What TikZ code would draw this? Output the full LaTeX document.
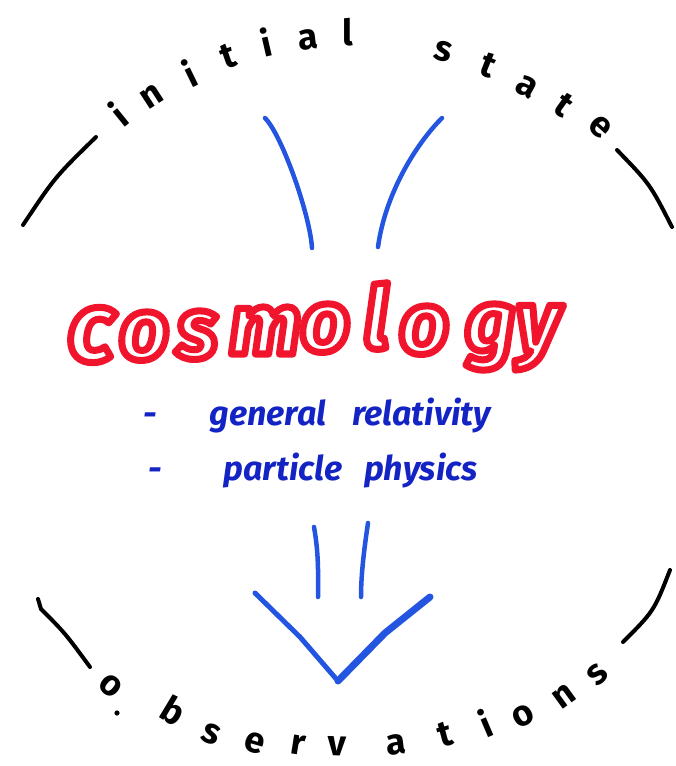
\documentclass[tikz,border=0pt]{standalone}
\usepackage{fontspec}
\newfontfamily\handfont{Fira Sans}
\definecolor{penblue}{RGB}{35,85,225}
\definecolor{inkblue}{RGB}{20,35,195}
\definecolor{penred}{RGB}{240,20,45}
% hollow lettering: stroke the glyph outlines only
\newcommand\hollow[1]{\special{pdf:literal direct 1 Tr 7 w 1 j}#1\special{pdf:literal direct 0 Tr}}

\begin{document}
\begin{tikzpicture}[x=1pt,y=-1pt,
    rim/.style={line width=4pt,line cap=round},
    bluestroke/.style={line width=4.5pt,line cap=round,draw=penblue},
    letter/.style={font=\handfont\bfseries\fontsize{36}{40}\selectfont,inner sep=0pt,
                   text height=19pt,text depth=0pt},
    bigletter/.style={font=\handfont\bfseries\itshape\fontsize{86}{96}\selectfont,
                      text=penred,inner sep=0pt,anchor=base},
    point/.style={font=\handfont\bfseries\itshape\fontsize{34}{40}\selectfont,
                  text=inkblue,inner sep=0pt,anchor=base west}]

  \useasboundingbox (0,0) rectangle (675,766);

  % --- the four pieces of the outer ring ---
  \draw[rim] (23,225) .. controls (55,177) .. (96,137);
  \draw[rim] (617,150) .. controls (650,184) .. (672,227);
  \draw[rim] (38,599) -- (41,609) .. controls (65,633) .. (90,667);
  \draw[rim] (670,570) .. controls (654,611) .. (623,642);

  % --- top arc: initial state ---
  \node[letter,rotate=39]  (i1) at (121,118) {i};
  \node[letter,rotate=33]  (n1) at (152,97)  {n};
  \node[letter,rotate=26]  (i2) at (192,78)  {i};
  \node[letter,rotate=19]  (t1) at (229,58)  {t};
  \node[letter,rotate=13]  (i3) at (267,47)  {i};
  \node[letter,rotate=7]   (a1) at (308,40)  {a};
  \node[letter,rotate=0]   (l1) at (348,36)  {l};
  \node[letter,rotate=-15] (s1) at (443,52)  {s};
  \node[letter,rotate=-22] (t2) at (487,67)  {t};
  \node[letter,rotate=-29] (a2) at (527,87)  {a};
  \node[letter,rotate=-36] (t3) at (563,107) {t};
  \node[letter,rotate=-42] (e1) at (600,127) {e};

  % --- bottom arc: observations ---
  \node[letter,rotate=-40] (o1) at (111,686) {o};
  \fill (117,713) circle (2.6);
  \node[letter,rotate=-31] (b1) at (172,714) {b};
  \node[letter,rotate=-23] (s2) at (211,734) {s};
  \node[letter,rotate=-16] (e2) at (255,743) {e};
  \node[letter,rotate=-9]  (r1) at (298,745) {r};
  \node[letter,rotate=-2]  (v1) at (337,746) {v};
  \node[letter,rotate=7]   (a3) at (396,745) {a};
  \node[letter,rotate=15]  (t4) at (446,737) {t};
  \node[letter,rotate=23]  (i4) at (487,728) {i};
  \node[letter,rotate=28]  (o2) at (523,716) {o};
  \node[letter,rotate=36]  (n2) at (564,697) {n};
  \node[letter,rotate=42]  (s3) at (598,675) {s};

  % --- the two strokes coming in from the top ---
  \draw[bluestroke] (265,118) .. controls (282,135) and (310,215) .. (312,248);
  \draw[bluestroke] (442,118) .. controls (415,145) and (385,195) .. (378,247);

  % --- cosmology, hollow red letters ---
  \node[bigletter,font=\handfont\bfseries\itshape\fontsize{98}{104}\selectfont] (c) at (91,361) {\hollow{c}};
  \node[bigletter] (o3) at (144,359) {\hollow{o}};
  \node[bigletter] (s4) at (197,358) {\hollow{s}};
  \node[bigletter] (m)  at (265,354) {\hollow{m}};
  \node[bigletter] (o4) at (325,351) {\hollow{o}};
  \node[bigletter] (l2) at (376,348) {\hollow{l}};
  \node[bigletter] (o5) at (424,353) {\hollow{o}};
  \node[bigletter] (g)  at (490,351) {\hollow{g}};
  \node[bigletter] (y)  at (538,351) {\hollow{y}};

  % --- the two items ---
  \node[point] (gr) at (143,425) {-\hspace{53pt}general\hspace{26pt}relativity};
  \node[point] (pp) at (148,480) {-\hspace{62pt}particle\hspace{22pt}physics};

  % --- the double shaft and the open head pointing down ---
  \draw[bluestroke] (314,527) .. controls (319,555) and (318,575) .. (318,597);
  \draw[bluestroke] (368,523) .. controls (364,550) and (361,575) .. (361,597);
  \draw[bluestroke,line width=5pt] (255,593) -- (300,637) -- (338,681);
  \draw[bluestroke,line width=7pt] (338,681) -- (385,633) -- (430,597);
\end{tikzpicture}
\end{document}
